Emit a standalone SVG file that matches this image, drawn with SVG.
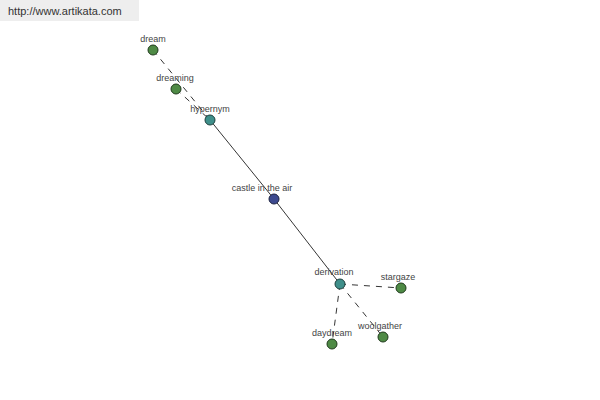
<svg xmlns="http://www.w3.org/2000/svg" width="600" height="400" viewBox="0 0 600 400">
<style>
.lbl{font-family:"Liberation Sans",Arial,sans-serif;font-size:9px;fill:#444;text-anchor:middle}
.solid{stroke:#000;stroke-width:0.8;fill:none}
.dash{stroke:#000;stroke-width:0.8;fill:none;stroke-dasharray:6,6}
.g{fill:#4e8a45;stroke:#1f3a1c;stroke-width:1}
.t{fill:#3f8f8a;stroke:#1d3f3d;stroke-width:1}
.b{fill:#3d4a8f;stroke:#1c2240;stroke-width:1}
</style>
<rect x="0" y="0" width="139" height="21" fill="#eeeeee"/>
<text x="8" y="15" font-family="'Liberation Sans',Arial,sans-serif" font-size="11" fill="#333">http://www.artikata.com</text>
<g id="connectors">
<line class="dash" x1="153" y1="50" x2="210" y2="120"/>
<line class="dash" x1="176" y1="89" x2="210" y2="120"/>
<line class="solid" x1="210" y1="120" x2="274" y2="199"/>
<line class="solid" x1="274" y1="199" x2="340" y2="284"/>
<line class="dash" x1="340" y1="284" x2="401" y2="288"/>
<line class="dash" x1="340" y1="284" x2="332" y2="344"/>
<line class="dash" x1="340" y1="284" x2="383" y2="337"/>
</g>
<g id="dream"><circle class="g" cx="153" cy="50" r="5"/><text class="lbl" x="153" y="42">dream</text></g>
<g id="dreaming"><circle class="g" cx="176" cy="89" r="5"/><text class="lbl" x="175" y="81">dreaming</text></g>
<g id="hypernym"><circle class="t" cx="210" cy="120" r="5"/><text class="lbl" x="210" y="112">hypernym</text></g>
<g id="castle"><circle class="b" cx="274" cy="199" r="5"/><text class="lbl" x="262" y="191">castle in the air</text></g>
<g id="derivation"><circle class="t" cx="340" cy="284" r="5"/><text class="lbl" x="334" y="275">derivation</text></g>
<g id="stargaze"><circle class="g" cx="401" cy="288" r="5"/><text class="lbl" x="398" y="280">stargaze</text></g>
<g id="daydream"><circle class="g" cx="332" cy="344" r="5"/><text class="lbl" x="332" y="336">daydream</text></g>
<g id="woolgather"><circle class="g" cx="383" cy="337" r="5"/><text class="lbl" x="380" y="329">woolgather</text></g>
</svg>
